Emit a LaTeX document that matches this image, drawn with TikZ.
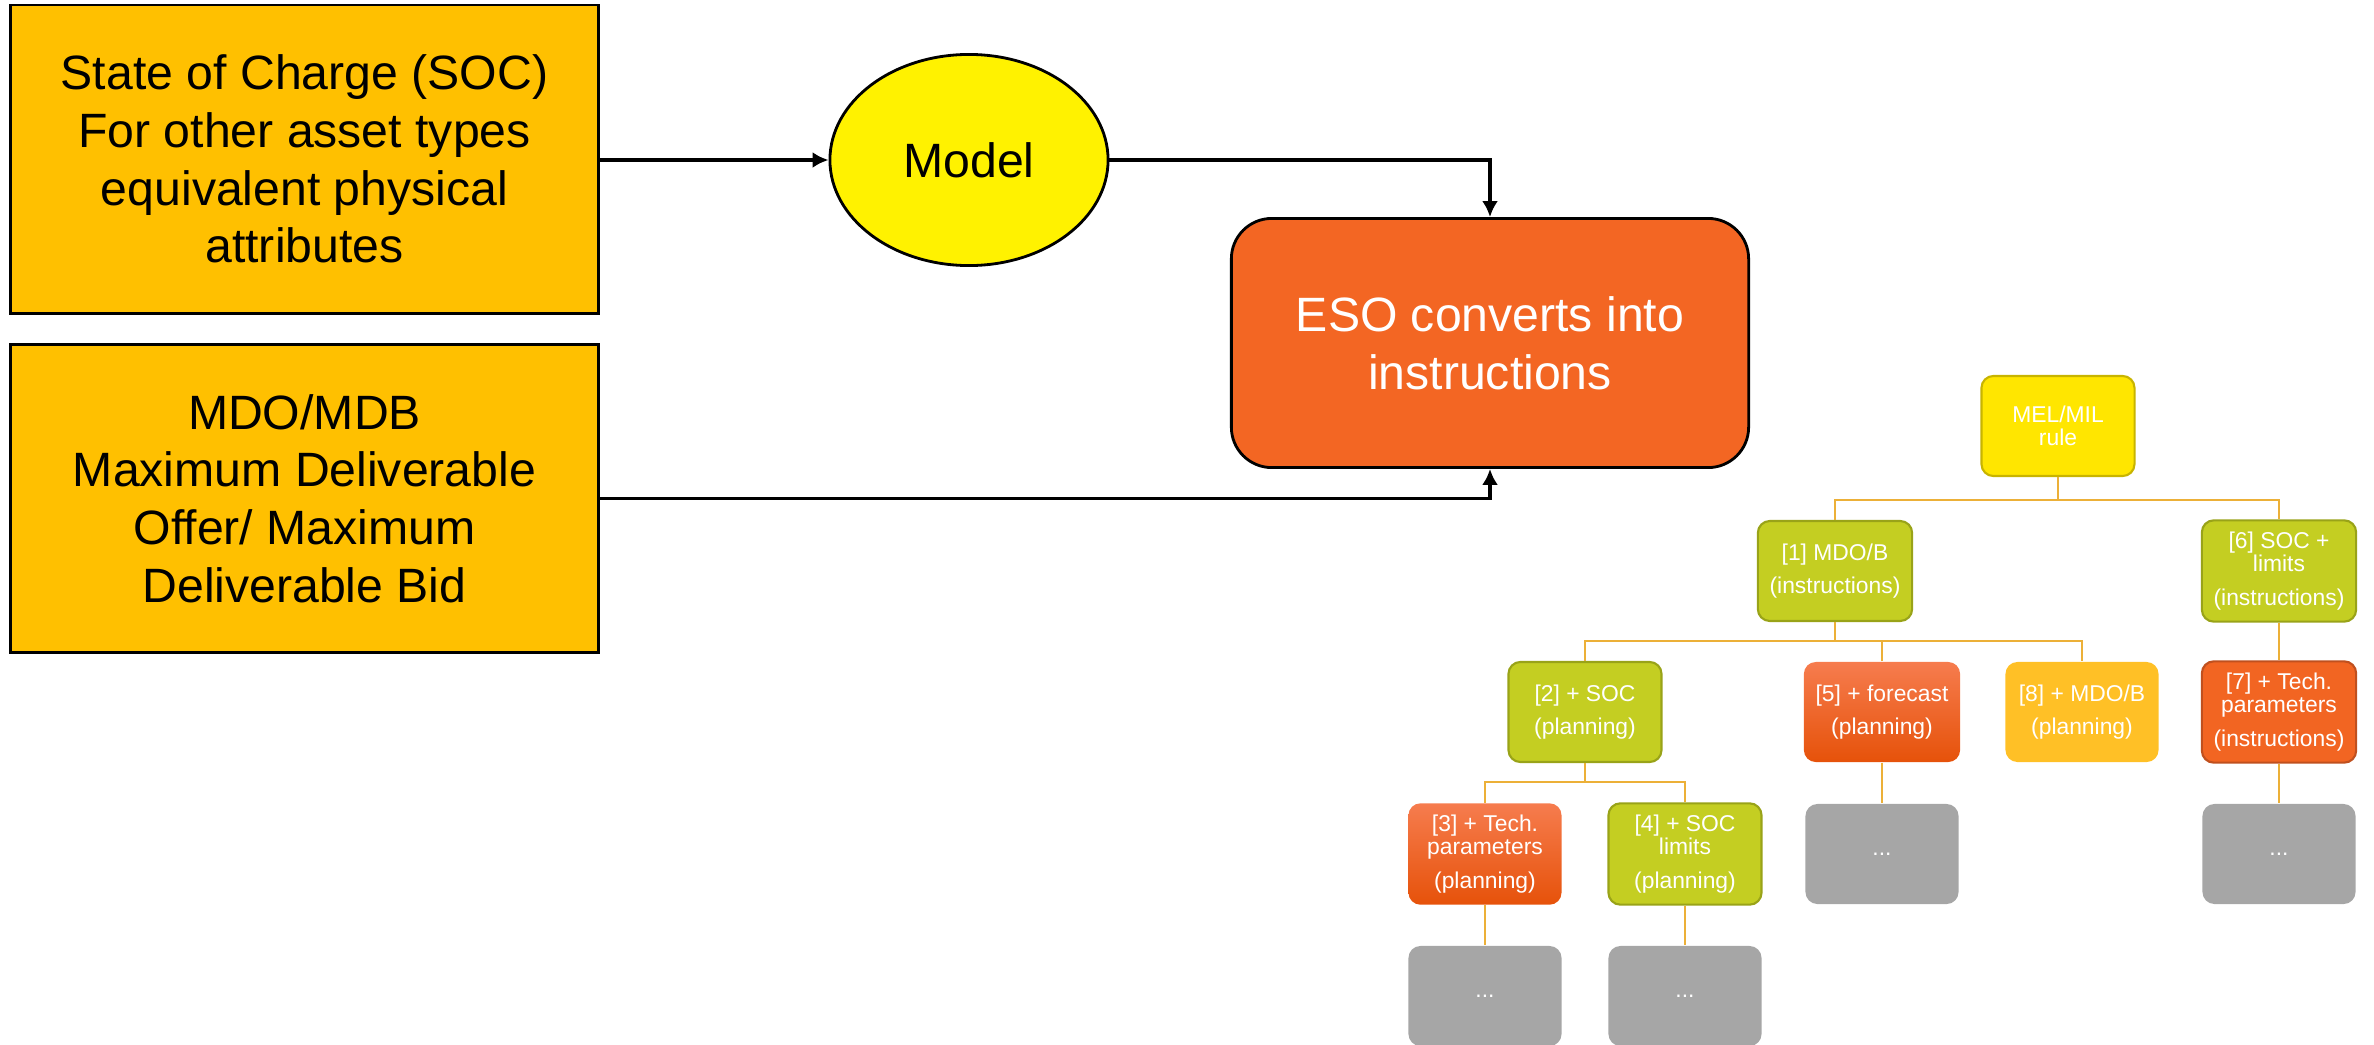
\documentclass[tikz,border=0pt]{standalone}
\usepackage{fontspec}
\setmainfont{Liberation Sans}
\usetikzlibrary{arrows.meta,shapes.geometric}

\definecolor{inputfill}{RGB}{255,192,0}
\definecolor{esofill}{RGB}{243,102,35}
\definecolor{melfill}{RGB}{255,230,0}
\definecolor{meldraw}{RGB}{200,180,0}
\definecolor{greenfill}{RGB}{196,206,34}
\definecolor{greendraw}{RGB}{153,163,24}
\definecolor{goldfill}{RGB}{255,192,38}
\definecolor{redfill}{RGB}{242,101,34}
\definecolor{reddraw}{RGB}{192,80,30}
\definecolor{greyfill}{RGB}{166,166,166}
\definecolor{treeline}{RGB}{236,176,56}

\begin{document}
\begin{tikzpicture}[
	x = 0.01cm, y = -0.01cm,
	inbox/.style = {draw, line width = 0.8pt, fill = inputfill, align = center,
		minimum width = 5.87cm, minimum height = 3.08cm,
		font = \fontsize{13.7}{16.4}\selectfont},
	flow/.style = {-{Latex[length=4.5pt,width=4.5pt]}, line width = 0.9pt},
	leaf/.style = {rounded corners = 3.4pt, align = center, text = white,
		minimum width = 1.53cm, minimum height = 1.0cm,
		font = \fontsize{6.5}{6.6}\selectfont},
	melbox/.style = {leaf, fill = melfill, draw = meldraw, line width = 0.6pt},
	greenbox/.style = {leaf, fill = greenfill, draw = greendraw, line width = 0.6pt},
	hotbox/.style = {leaf, top color = {rgb,255:red,246;green,124;blue,78}, bottom color = {rgb,255:red,230;green,82;blue,10}},
	goldbox/.style = {leaf, fill = goldfill},
	redbox/.style = {leaf, fill = redfill, draw = reddraw, line width = 0.6pt},
	greybox/.style = {leaf, fill = greyfill},
	branch/.style = {draw = treeline, line width = 0.8pt}
	]

	\useasboundingbox (0,0) rectangle (2374,1045);

	\node[inbox] (soc) at (304.5,159) {State of Charge (SOC)\\For other asset types\\equivalent physical\\attributes};
	\node[inbox] (mdo) at (304.5,498.5) {MDO/MDB\\Maximum Deliverable\\Offer/ Maximum\\Deliverable Bid};

	\node[ellipse, draw, line width = 0.8pt, fill = yellow, minimum width = 2.78cm, minimum height = 2.11cm,
		font = \fontsize{13.7}{16.4}\selectfont] (model) at (969,160) {Model};

	\node[draw, line width = 0.8pt, fill = esofill, rounded corners = 11.5pt, text = white, align = center,
		minimum width = 5.17cm, minimum height = 2.49cm,
		font = \fontsize{13.7}{16.4}\selectfont] (eso) at (1490,343) {ESO converts into\\instructions};

	\draw[flow] (soc.east |- model.west) -- (model.west);
	\draw[flow] (model.east) -| (eso.north);
	\draw[flow] (mdo.east) -| (eso.south);

	\node[melbox] (mel) at (2058,426) {MEL/MIL\\rule};
	\node[greenbox] (one) at (1835,571) {[1] MDO/B\\[2.9pt](instructions)};
	\node[greenbox] (six) at (2279,571) {[6] SOC +\\limits\\[2.9pt](instructions)};
	\node[greenbox] (two) at (1585,712) {[2] + SOC\\[2.9pt](planning)};
	\node[hotbox] (five) at (1882,712) {[5] + forecast\\[2.9pt](planning)};
	\node[goldbox] (eight) at (2082,712) {[8] + MDO/B\\[2.9pt](planning)};
	\node[redbox] (seven) at (2279,712) {[7] + Tech.\\parameters\\[2.9pt](instructions)};
	\node[hotbox] (three) at (1485,854) {[3] + Tech.\\parameters\\[2.9pt](planning)};
	\node[greenbox] (four) at (1685,854) {[4] + SOC\\limits\\[2.9pt](planning)};
	\node[greybox] (fivemore) at (1882,854) {...};
	\node[greybox] (sevenmore) at (2279,854) {...};
	\node[greybox] (threemore) at (1485,996) {...};
	\node[greybox] (fourmore) at (1685,996) {...};

	\draw[branch] (mel.south) -- ++(0,23) coordinate (melfork);
	\draw[branch] (one.north) |- (melfork) -| (six.north);
	\draw[branch] (one.south) -- ++(0,19) coordinate (onefork);
	\draw[branch] (two.north) |- (onefork) -| (eight.north);
	\draw[branch] (five.north) -- (five.north |- onefork);
	\draw[branch] (two.south) -- ++(0,19) coordinate (twofork);
	\draw[branch] (three.north) |- (twofork) -| (four.north);
	\draw[branch] (six.south) -- (seven.north);
	\draw[branch] (five.south) -- (fivemore.north);
	\draw[branch] (seven.south) -- (sevenmore.north);
	\draw[branch] (three.south) -- (threemore.north);
	\draw[branch] (four.south) -- (fourmore.north);

\end{tikzpicture}
\end{document}
